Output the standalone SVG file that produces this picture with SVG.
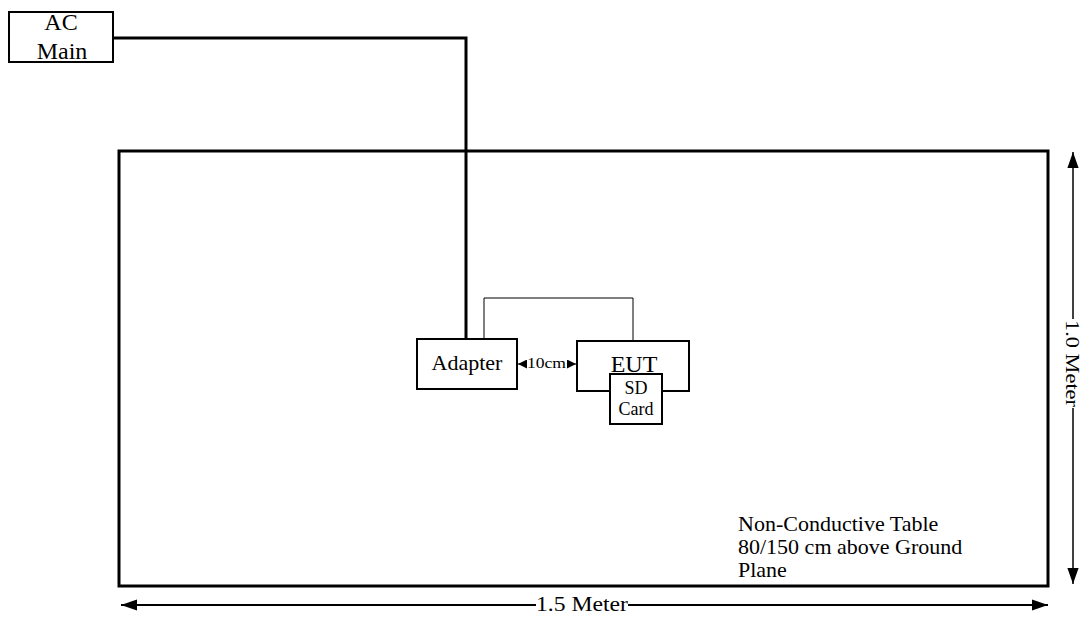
<svg xmlns="http://www.w3.org/2000/svg" width="1081" height="620" viewBox="0 0 1081 620">
<defs>
<style>
.t{font-family:"Liberation Serif","Times New Roman",serif;fill:#000}
.box{fill:#fff;stroke:#000;stroke-width:2}
.thick{fill:none;stroke:#000;stroke-width:3}
.thin{fill:none;stroke:#000;stroke-width:1}
</style>
<marker id="ah" viewBox="0 0 10 10" refX="10" refY="5" markerWidth="9" markerHeight="9" markerUnits="userSpaceOnUse" orient="auto-start-reverse"><path d="M0,0 L10,5 L0,10 Z" fill="#000"/></marker>
<marker id="ahL" viewBox="0 0 10 10" refX="10" refY="5" markerWidth="16" markerHeight="16" markerUnits="userSpaceOnUse" orient="auto-start-reverse"><path d="M0,1.5 L10,5 L0,8.5 Z" fill="#000"/></marker>
</defs>
<rect width="1081" height="620" fill="#fff"/>
<g id="table">
<rect x="119" y="151" width="929" height="435" class="thick"/>
<text class="t" font-size="22" x="738" y="531">Non-Conductive Table</text>
<text class="t" font-size="22" x="738" y="554">80/150 cm above Ground</text>
<text class="t" font-size="22" x="738" y="577">Plane</text>
</g>
<g id="connectors">
<polyline points="114,38 466,38 466,339" class="thick"/>
<polyline points="484,339 484,298 633,298 633,341" class="thin"/>
<line x1="518" y1="364" x2="526" y2="364" class="thin" marker-start="url(#ah)"/>
<line x1="567" y1="364" x2="576" y2="364" class="thin" marker-end="url(#ah)"/>
<text class="t" font-size="15" x="527" y="368" textLength="39" lengthAdjust="spacingAndGlyphs">10cm</text>
<line x1="121" y1="605" x2="536" y2="605" stroke="#000" stroke-width="2" marker-start="url(#ahL)"/>
<line x1="628" y1="605" x2="1048" y2="605" stroke="#000" stroke-width="2" marker-end="url(#ahL)"/>
<text class="t" font-size="20" x="536" y="611" textLength="92" lengthAdjust="spacingAndGlyphs">1.5 Meter</text>
<line x1="1073" y1="152" x2="1073" y2="319" stroke="#000" stroke-width="1.5" marker-start="url(#ahL)"/>
<line x1="1073" y1="408" x2="1073" y2="584" stroke="#000" stroke-width="1.5" marker-end="url(#ahL)"/>
<text class="t" font-size="18" transform="translate(1066,320) rotate(90)" textLength="87" lengthAdjust="spacingAndGlyphs">1.0 Meter</text>
</g>
<g id="ac-main">
<rect x="9" y="12" width="104" height="50" class="box"/>
<text class="t" font-size="24" x="61" y="30" text-anchor="middle">AC</text>
<text class="t" font-size="24" x="62" y="59" text-anchor="middle">Main</text>
</g>
<g id="adapter">
<rect x="417" y="339" width="100" height="50" class="box"/>
<text class="t" font-size="22" x="467" y="370" text-anchor="middle">Adapter</text>
</g>
<g id="eut">
<rect x="577" y="341" width="112" height="50" class="box"/>
<text class="t" font-size="24" x="634" y="372" text-anchor="middle">EUT</text>
</g>
<g id="sd-card">
<rect x="610" y="374" width="52" height="50" class="box"/>
<text class="t" font-size="18" x="636" y="394" text-anchor="middle">SD</text>
<text class="t" font-size="18" x="636" y="415" text-anchor="middle">Card</text>
</g>
</svg>
